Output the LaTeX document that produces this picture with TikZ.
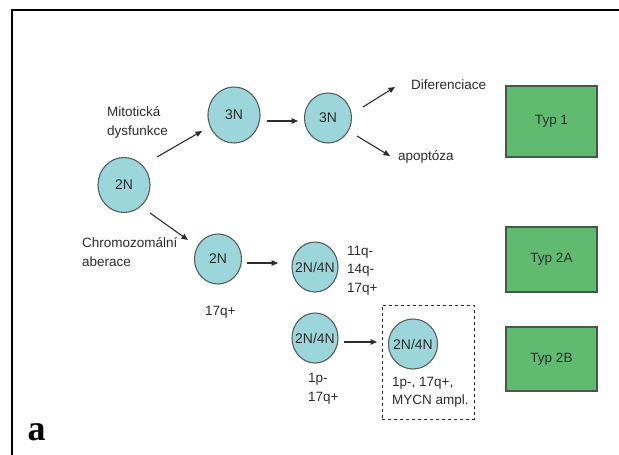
\documentclass[tikz,border=0pt]{standalone}
\usepackage{fontspec}
\setmainfont{Liberation Sans}
\newfontfamily\serifbold{Liberation Serif}
\usetikzlibrary{arrows.meta,shapes.geometric,calc}
\definecolor{cellfill}{RGB}{157,214,218}
\definecolor{cellline}{RGB}{85,95,98}
\definecolor{typfill}{RGB}{96,187,112}
\definecolor{typline}{RGB}{70,90,72}
\definecolor{txt}{RGB}{45,45,45}
\tikzset{
  cell/.style={ellipse, draw=cellline, line width=1.1pt, fill=cellfill, inner xsep=-8pt, inner ysep=0pt, text=txt, font=\fontsize{14}{16}\selectfont},
  typbox/.style={rectangle, draw=typline, line width=1.1pt, fill=typfill, inner sep=0pt, text=txt, font=\fontsize{13.5}{16}\selectfont},
  lbl/.style={inner sep=0pt, anchor=west, align=left, text=txt, font=\fontsize{13.5}{18.5}\selectfont},
  arr/.style={draw=txt, line width=1.1pt, -{Triangle[length=6.5pt,width=5.5pt]}},
}
\begin{document}
\begin{tikzpicture}[x=1pt,y=-1pt]
\useasboundingbox (0,0) rectangle (619,455);
% frame
\draw[line width=1.6pt, black] (12,455) -- (12,10) -- (619,10);
% cells
\node[cell, minimum width=52pt, minimum height=55pt] (c2a) at (124,185) {2N};
\node[cell, minimum width=52pt, minimum height=56pt] (c3a) at (234,115) {3N};
\node[cell, minimum width=47pt, minimum height=50pt] (c3b) at (328,118) {3N};
\node[cell, minimum width=47pt, minimum height=50pt] (c2b) at (218,259) {2N};
\node[cell, minimum width=46pt, minimum height=50pt] (c24a) at (315,267) {2N/4N};
\node[cell, minimum width=46pt, minimum height=50pt] (c24b) at (315,338) {2N/4N};
\node[cell, minimum width=49pt, minimum height=50pt] (c24c) at (413,344) {2N/4N};
% labels
\node[lbl] (mit) at (107,122.5) {Mitotická\\dysfunkce};
\node[lbl] (chr) at (82,252) {Chromozomální\\aberace};
\node[lbl] (dif) at (411,85) {Diferenciace};
\node[lbl] (apo) at (398,157) {apoptóza};
\node[lbl] (l2b) at (205,312) {17q+};
\node[lbl] (l24a) at (347,270.5) {11q-\\14q-\\17q+};
\node[lbl] (l24b) at (308,389) {1p-\\17q+};
\node[lbl] (l24c) at (392,392.5) {1p-, 17q+,\\MYCN ampl.};
% dashed box
\node[draw=txt, dashed, line width=1pt, inner sep=0pt, minimum width=92pt, minimum height=114pt] (dbox) at (428,362) {};
% type boxes
\node[typbox, minimum width=91pt, minimum height=71pt] (t1) at (551.5,121.5) {Typ 1};
\node[typbox, minimum width=91pt, minimum height=65pt] (t2a) at (551.5,259.5) {Typ 2A};
\node[typbox, minimum width=91pt, minimum height=64pt] (t2b) at (551.5,359) {Typ 2B};
% panel letter
\node[inner sep=0pt, font=\serifbold\bfseries\fontsize{36}{36}\selectfont] (pa) at (36.5,432) {a};
% arrows
\draw[arr] ($(c2a)+(33,-28)$) -- ($(c3a)+(-32,16)$);
\draw[arr] ($(c3a)+(33,6)$) -- ($(c3b)+(-30,3)$);
\draw[arr] ($(c2a)+(26,28)$) -- ($(c2b)+(-30,-19)$);
\draw[arr] ($(c3b)+(35,-11)$) -- ($(dif.west)+(-16,2)$);
\draw[arr] ($(c3b)+(29,18)$) -- ($(apo.west)+(-8,-1)$);
\draw[arr] ($(c2b)+(29,4)$) -- ($(c24a)+(-37,-4)$);
\draw[arr] ($(c24b)+(29,4)$) -- ($(c24c)+(-36,-2)$);
\end{tikzpicture}
\end{document}
